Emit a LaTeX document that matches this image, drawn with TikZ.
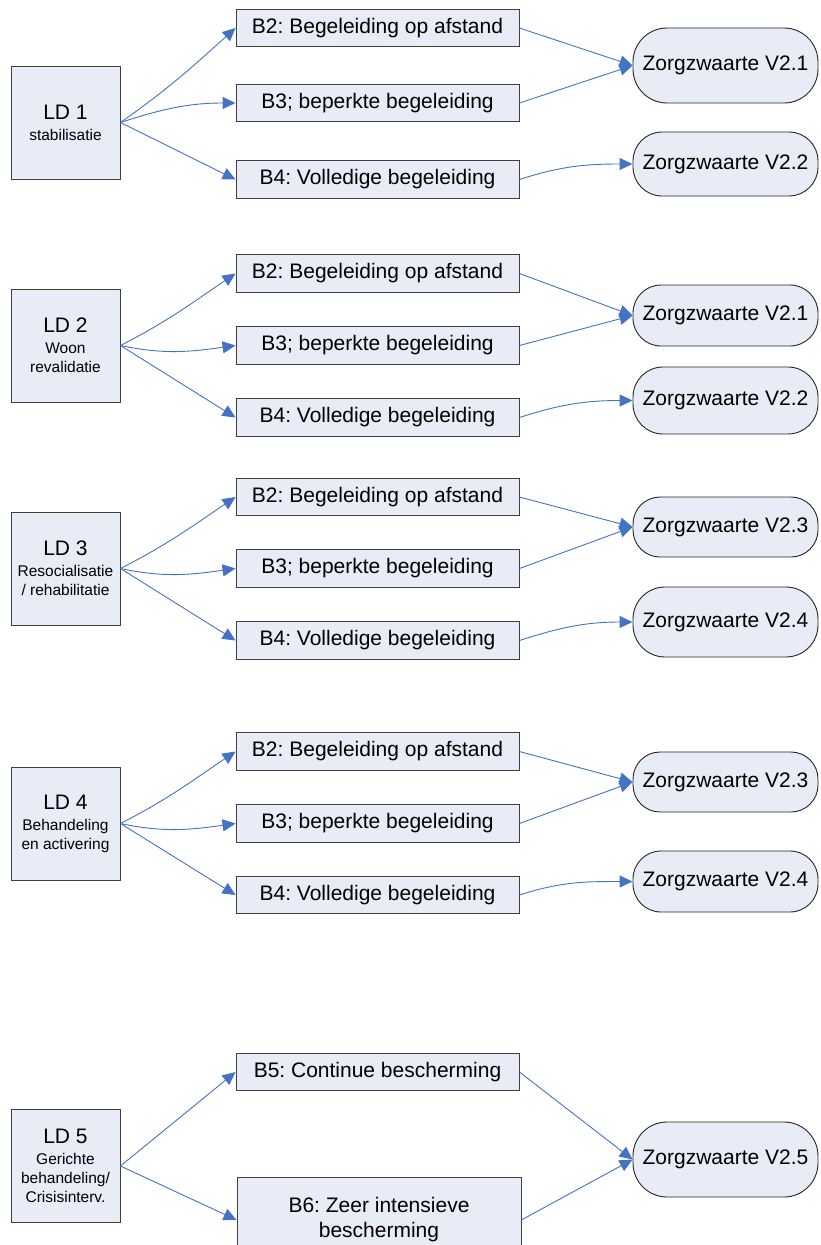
\documentclass[tikz,border=0pt]{standalone}
\usepackage{fontspec}
\setmainfont{Liberation Sans}
\usetikzlibrary{arrows.meta}
\definecolor{boxfill}{RGB}{231,236,247}
\definecolor{arrowblue}{RGB}{68,114,196}
\frenchspacing
\begin{document}
\begin{tikzpicture}[x=1pt,y=1pt,
  ldbox/.style={draw=black!75, fill=boxfill, line width=0.9pt, minimum width=109pt, minimum height=113pt, inner sep=0pt, align=center, font=\fontsize{15.5}{19}\selectfont},
  bbox/.style={draw=black!75, fill=boxfill, line width=0.9pt, minimum width=283pt, minimum height=37.5pt, inner sep=0pt, align=center, font=\fontsize{21}{25}\selectfont},
  zbox/.style={draw=black!85, fill=boxfill, line width=0.9pt, minimum width=185pt, inner sep=0pt, font=\fontsize{21}{25}\selectfont},
  arr/.style={draw=arrowblue, line width=0.9pt, -{Triangle[length=13pt,width=12pt]}}
]
\useasboundingbox (0,0) rectangle (820,-1245);
\clip (0,0) rectangle (820,-1245);

% ---------- Row 1 ----------
\node[ldbox] (ld1) at (65.5,-122.5) {{\fontsize{21}{21}\selectfont LD 1}\\[2pt]stabilisatie};
\node[bbox] (b21) at (377.5,-28) {B2: Begeleiding op afstand};
\node[bbox] (b31) at (377.5,-103) {B3; beperkte begeleiding};
\node[bbox] (b41) at (377.5,-179.5) {B4: Volledige begeleiding};
\node[zbox, minimum height=75pt, rounded corners=34pt] (z11) at (725.5,-65.5) {Zorgzwaarte V2.1};
\node[zbox, minimum height=64pt, rounded corners=29pt] (z12) at (725.5,-164) {Zorgzwaarte V2.2};
\draw[arr] (ld1.east) to[out=35,in=222] (b21.west);
\draw[arr] (ld1.east) to[out=18,in=180] (b31.west);
\draw[arr] (ld1.east) -- (b41.west);
\draw[arr] (b21.east) -- (z11.west);
\draw[arr] (b31.east) -- (z11.west);
\draw[arr] (b41.east) to[out=18,in=180] (z12.west);

% ---------- Row 2 ----------
\node[ldbox] (ld2) at (65.5,-345.5) {{\fontsize{21}{21}\selectfont LD 2}\\[2pt]Woon\\revalidatie};
\node[bbox] (b22) at (377.5,-273.5) {B2: Begeleiding op afstand};
\node[bbox] (b32) at (377.5,-345.5) {B3; beperkte begeleiding};
\node[bbox] (b42) at (377.5,-417.5) {B4: Volledige begeleiding};
\node[zbox, minimum height=61pt, rounded corners=28pt] (z21) at (725.5,-315.5) {Zorgzwaarte V2.1};
\node[zbox, minimum height=67pt, rounded corners=30pt] (z22) at (725.5,-400.5) {Zorgzwaarte V2.2};
\draw[arr] (ld2.east) to[out=27,in=214] (b22.west);
\draw[arr] (ld2.east) to[out=-12,in=188] (b32.west);
\draw[arr] (ld2.east) -- (b42.west);
\draw[arr] (b22.east) -- (z21.west);
\draw[arr] (b32.east) -- (z21.west);
\draw[arr] (b42.east) to[out=18,in=180] (z22.west);

% ---------- Row 3 ----------
\node[ldbox] (ld3) at (65.5,-568.5) {{\fontsize{21}{21}\selectfont LD 3}\\[2pt]Resocialisatie\\/ rehabilitatie};
\node[bbox] (b23) at (377.5,-497) {B2: Begeleiding op afstand};
\node[bbox] (b33) at (377.5,-568.5) {B3; beperkte begeleiding};
\node[bbox] (b43) at (377.5,-640.5) {B4: Volledige begeleiding};
\node[zbox, minimum height=60pt, rounded corners=27pt] (z23) at (725.5,-527) {Zorgzwaarte V2.3};
\node[zbox, minimum height=70pt, rounded corners=32pt] (z24) at (725.5,-622) {Zorgzwaarte V2.4};
\draw[arr] (ld3.east) to[out=27,in=214] (b23.west);
\draw[arr] (ld3.east) to[out=-12,in=188] (b33.west);
\draw[arr] (ld3.east) -- (b43.west);
\draw[arr] (b23.east) -- (z23.west);
\draw[arr] (b33.east) -- (z23.west);
\draw[arr] (b43.east) to[out=18,in=180] (z24.west);

% ---------- Row 4 ----------
\node[ldbox] (ld4) at (65.5,-823.5) {{\fontsize{21}{21}\selectfont LD 4}\\[2pt]Behandeling\\en activering};
\node[bbox] (b24) at (377.5,-751.5) {B2: Begeleiding op afstand};
\node[bbox] (b34) at (377.5,-823.5) {B3; beperkte begeleiding};
\node[bbox] (b44) at (377.5,-895) {B4: Volledige begeleiding};
\node[zbox, minimum height=60pt, rounded corners=27pt] (z25) at (725.5,-782) {Zorgzwaarte V2.3};
\node[zbox, minimum height=61pt, rounded corners=28pt] (z26) at (725.5,-881.5) {Zorgzwaarte V2.4};
\draw[arr] (ld4.east) to[out=27,in=214] (b24.west);
\draw[arr] (ld4.east) to[out=-12,in=188] (b34.west);
\draw[arr] (ld4.east) -- (b44.west);
\draw[arr] (b24.east) -- (z25.west);
\draw[arr] (b34.east) -- (z25.west);
\draw[arr] (b44.east) to[out=18,in=180] (z26.west);

% ---------- Row 5 ----------
\node[ldbox] (ld5) at (65.5,-1166) {{\fontsize{21}{21}\selectfont LD 5}\\[2pt]Gerichte\\behandeling/\\Crisisinterv.};
\node[bbox] (b5) at (377.5,-1072) {B5: Continue bescherming};
\node[bbox, minimum width=284pt, minimum height=85pt, anchor=north] (b6) at (379,-1177) {B6: Zeer intensieve\\bescherming};
\node[zbox, minimum height=75pt, rounded corners=34pt] (z5) at (725.5,-1159.5) {Zorgzwaarte V2.5};
\draw[arr] (ld5.east) -- (b5.west);
\draw[arr] (ld5.east) -- (b6.west);
\draw[arr] (b5.east) -- (z5.west);
\draw[arr] (b6.east) -- (z5.west);
\end{tikzpicture}
\end{document}
